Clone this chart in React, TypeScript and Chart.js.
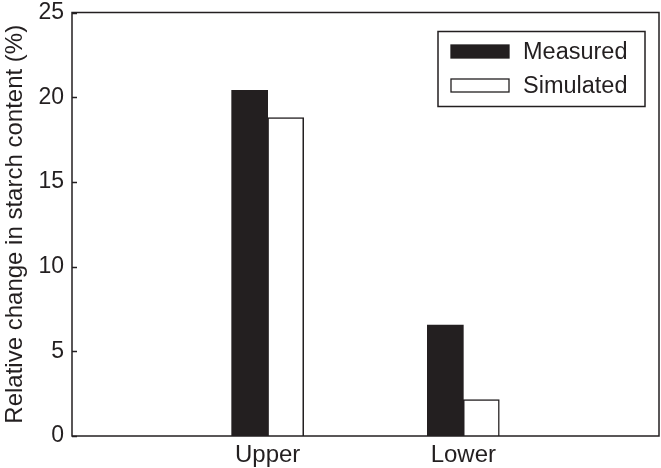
import { Chart, registerables } from 'chart.js'
import { useEffect, useRef } from 'react'

Chart.register(...registerables)

const categories = ['Upper', 'Lower']
const measured = [20.4, 6.55]
const simulated = [18.8, 2.15]
const yTicks = [0, 5, 10, 15, 20, 25]
const seriesNames = ['Measured', 'Simulated']
const yTitle = 'Relative change in starch content (%)'

const INK = '#231f20'
const FONT = "'Liberation Sans', Arial, Helvetica, sans-serif"

// blank end slots so the two groups sit at 1/3 and 2/3 of the axis
const labels = ['', ...categories, '']
const pad = (vals: number[]) => [null, ...vals, null]

const framePlugin = {
  id: 'frame',
  afterDraw(chart: any) {
    const { ctx, chartArea: a } = chart
    const y = chart.scales.y
    ctx.save()
    ctx.strokeStyle = INK
    ctx.lineWidth = 1.5
    ctx.strokeRect(a.left, a.top, a.right - a.left, a.bottom - a.top)

    // short inward ticks on the y axis
    y.ticks.forEach((_t: any, i: number) => {
      const py = Math.round(y.getPixelForTick(i)) + 0.5
      ctx.beginPath()
      ctx.moveTo(a.left, py)
      ctx.lineTo(a.left + 5, py)
      ctx.stroke()
    })

    // boxed legend in the top right corner
    const bx = a.right - 221
    const by = a.top + 19
    const bw = 207
    const bh = 75
    ctx.lineWidth = 1.5
    ctx.strokeRect(bx, by, bw, bh)
    ctx.font = `23.5px ${FONT}`
    ctx.textBaseline = 'middle'
    ctx.textAlign = 'left'
    chart.data.datasets.forEach((ds: any, i: number) => {
      const rowY = by + 20 + i * 34
      const sx = bx + 13
      ctx.fillStyle = ds.backgroundColor
      ctx.fillRect(sx, rowY - 6.5, 58, 13)
      ctx.strokeStyle = INK
      ctx.lineWidth = 1.3
      ctx.strokeRect(sx, rowY - 6.5, 58, 13)
      ctx.fillStyle = INK
      ctx.fillText(ds.label, sx + 72, rowY + 1)
    })
    ctx.restore()
  },
}

export default function App() {
  const chartRef = useRef<HTMLCanvasElement>(null)
  const chartInstance = useRef<Chart | null>(null)

  useEffect(() => {
    if (chartInstance.current) chartInstance.current.destroy()
    const ctx = chartRef.current!.getContext('2d')!
    chartInstance.current = new Chart(ctx, {
      type: 'bar',
      data: {
        labels,
        datasets: [
          {
            label: seriesNames[0],
            data: pad(measured),
            backgroundColor: INK,
            borderColor: INK,
            borderWidth: 0,
            barThickness: 36,
          },
          {
            label: seriesNames[1],
            data: pad(simulated),
            backgroundColor: '#ffffff',
            borderColor: INK,
            borderWidth: 1.5,
            barThickness: 36,
          },
        ],
      },
      options: {
        animation: false,
        responsive: true,
        maintainAspectRatio: false,
        layout: { padding: { top: 0, right: 2, left: 0, bottom: 0 } },
        scales: {
          x: {
            offset: false,
            grid: { display: false },
            border: { display: false },
            ticks: {
              color: INK,
              padding: -3,
              font: { family: FONT, size: 24 },
              autoSkip: false,
              maxRotation: 0,
            },
            afterFit(scale: any) {
              scale.height = 32
            },
          },
          y: {
            min: 0,
            max: 25,
            afterBuildTicks(scale: any) {
              scale.ticks = yTicks.map((v) => ({ value: v }))
            },
            grid: { display: false, drawTicks: false },
            border: { display: false },
            ticks: {
              color: INK,
              padding: 8,
              font: { family: FONT, size: 23 },
            },
            title: {
              display: true,
              text: yTitle,
              color: INK,
              padding: { top: 1, bottom: 0 },
              font: { family: FONT, size: 24 },
            },
            afterFit(scale: any) {
              scale.width = 72
              scale.paddingTop = 12.5
              scale.paddingBottom = 0
            },
          },
        },
        plugins: {
          legend: { display: false },
          tooltip: { enabled: false },
        },
      },
      plugins: [framePlugin],
    })

    return () => {
      if (chartInstance.current) {
        chartInstance.current.destroy()
        chartInstance.current = null
      }
    }
  }, [])

  return (
    <div style={{ position: 'fixed', left: 0, top: 0, width: 661, height: 468, background: '#fff' }}>
      <canvas ref={chartRef} />
    </div>
  )
}
